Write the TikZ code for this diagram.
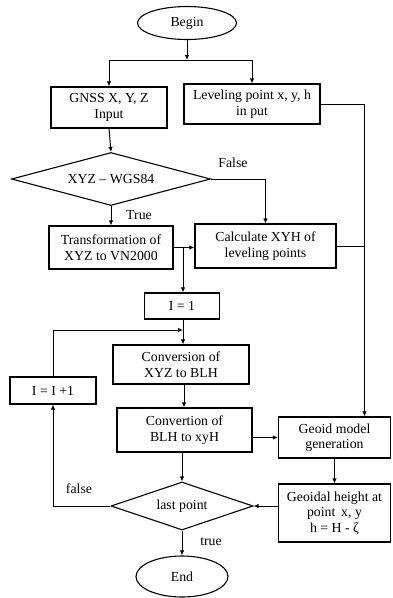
\documentclass[tikz,border=0pt]{standalone}
\usepackage{fontspec}
\setmainfont{Liberation Serif}
\usetikzlibrary{shapes.geometric,arrows.meta}
\begin{document}
\begin{tikzpicture}[x=1pt,y=-1pt,
  every node/.style={font=\fontsize{13.8}{15.5}\selectfont, align=center, inner sep=0pt},
  box/.style={draw, line width=1.1pt, rectangle},
  oval/.style={draw, line width=1.1pt, ellipse},
  dec/.style={draw, line width=1.1pt, diamond, aspect=3.7},
  conn/.style={line width=1pt},
  arr/.style={conn, -{Latex[length=5pt,width=4.5pt]}},
  lbl/.style={font=\fontsize{13.8}{15.5}\selectfont}
]
\useasboundingbox (0,0) rectangle (392,598);
% nodes
\node[oval, minimum width=99pt, minimum height=33pt] (begin) at (187,23) {Begin};
\node[box, minimum width=116pt, minimum height=41pt] (gnss) at (109,107.5) {GNSS X, Y, Z\\Input};
\node[box, minimum width=136pt, minimum height=40pt] (lev) at (252,104) {Leveling point x, y, h\\in put};
\node[dec, minimum width=199pt, minimum height=53pt] (d1) at (111,179) {XYZ – WGS84};
\node[box, minimum width=124pt, minimum height=43pt] (trans) at (111,247.5) {Transformation of\\XYZ to VN2000};
\node[box, minimum width=141pt, minimum height=44pt] (calc) at (265.5,246) {Calculate XYH of\\leveling points};
\node[box, minimum width=75pt, minimum height=26pt] (i1) at (182,306) {I = 1};
\node[box, minimum width=136pt, minimum height=39pt] (conv) at (181,364.5) {Conversion of\\XYZ to BLH};
\node[box, minimum width=86pt, minimum height=27pt] (inc) at (53,390.5) {I = I +1};
\node[box, minimum width=135pt, minimum height=44pt] (convt) at (184.5,430) {Convertion of\\BLH to xyH};
\node[box, minimum width=112pt, minimum height=41pt] (geoid) at (334.5,437.5) {Geoid model\\generation};
\node[box, minimum width=112pt, minimum height=58pt] (geoidal) at (334.5,513) {Geoidal height at\\point\, x, y\\h = H - ζ};
\node[dec, minimum width=142pt, minimum height=48pt] (d2) at (182,506) {\raisebox{-2pt}{last point}};
\node[oval, minimum width=92pt, minimum height=41pt] (end) at (182,576.5) {End};
% coordinates
\coordinate (j1) at (187,60);
\coordinate (j2) at (183,247.5);
\coordinate (j3) at (183,330);
\coordinate (c4) at (184,0);
\coordinate (r1) at (364.5,104);
% connectors
\draw[arr] (begin.south) -- (j1);
\draw[conn] (gnss.north |- j1) -- (lev.north |- j1);
\draw[arr] (gnss.north |- j1) -- (gnss.north);
\draw[arr] (lev.north |- j1) -- (lev.north);
\draw[arr] (gnss.south) -- (d1.north);
\draw[arr] (d1.east) -- (calc.north |- d1.east) -- (calc.north);
\node[lbl] (lfalse1) at (233,163) {False};
\draw[arr] (d1.south) -- (trans.north);
\node[lbl] (ltrue1) at (139,215) {True};
\draw[arr] (trans.east) -- (calc.west |- trans.east);
\draw[arr] (j2) -- (j2 |- i1.north);
\draw[conn] (j2 |- i1.south) -- (j3);
\draw[arr] (j3) -- (j3 |- conv.north);
\draw[arr] (inc.north) -- (inc.north |- j3) -- (j3);
\draw[arr] (c4 |- conv.south) -- (c4 |- convt.north);
\draw[arr] (convt.east |- geoid.west) -- (geoid.west);
\draw[arr] (lev.east) -- (r1) -- (r1 |- geoid.north);
\draw[conn] (calc.east) -- (r1 |- calc.east);
\draw[arr] (geoid.south) -- (geoidal.north);
\draw[arr] (geoidal.west |- d2.east) -- (d2.east);
\draw[arr] (convt.south -| d2.north) -- (d2.north);
\draw[arr] (d2.west) -- (inc.south |- d2.west) -- (inc.south);
\node[lbl] (lfalse2) at (79,489) {false};
\draw[arr] (d2.south) -- (end.north);
\node[lbl] (ltrue2) at (211,542) {true};
\end{tikzpicture}
\end{document}
